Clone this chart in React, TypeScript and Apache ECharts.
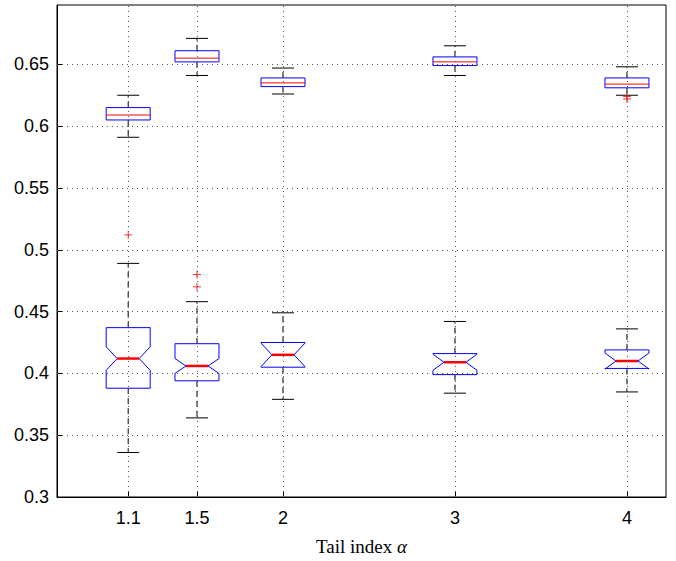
import React, { useEffect, useRef } from "react";
import * as echarts from "echarts";

const positions = [1.1, 1.5, 2, 3, 4];
// [min, q1, median, q3, max]
const upperBoxes = [
  [0.591, 0.605, 0.609, 0.615, 0.625],
  [0.641, 0.652, 0.655, 0.661, 0.671],
  [0.626, 0.632, 0.635, 0.639, 0.647],
  [0.641, 0.649, 0.652, 0.656, 0.665],
  [0.625, 0.631, 0.634, 0.639, 0.648],
];
const lowerBoxes = [
  [0.336, 0.388, 0.412, 0.437, 0.489],
  [0.364, 0.394, 0.406, 0.424, 0.458],
  [0.379, 0.405, 0.415, 0.425, 0.449],
  [0.384, 0.399, 0.409, 0.416, 0.442],
  [0.385, 0.404, 0.41, 0.419, 0.436],
];
const lowerNotch = [0.0095, 0.006, 0.0095, 0.0065, 0.0065];
const outliers = [
  [4, 0.622],
  [4, 0.624],
  [1.1, 0.512],
  [1.5, 0.47],
  [1.5, 0.48],
];
const yTicks = [0.3, 0.35, 0.4, 0.45, 0.5, 0.55, 0.6, 0.65];

const App = () => {
  const chartRef = useRef<HTMLDivElement>(null);

  useEffect(() => {
    const chart = echarts.init(chartRef.current!, null, { renderer: "svg" });
    const boxData = [
      ...upperBoxes.map((b, i) => [positions[i], ...b, 0]),
      ...lowerBoxes.map((b, i) => [positions[i], ...b, lowerNotch[i]]),
    ];
    const renderItem = (params: any, api: any) => {
      const x = api.value(0);
      const [mn, q1, md, q3, mx, notch] = [1, 2, 3, 4, 5, 6].map((k) => api.value(k));
      const px = (v: number) => api.coord([x, v]);
      const cx = px(md)[0];
      const half = 22;
      const cap = 11;
      const yMin = px(mn)[1], yQ1 = px(q1)[1], yMd = px(md)[1], yQ3 = px(q3)[1], yMax = px(mx)[1];
      const whisk = { stroke: "#000", lineWidth: 1, lineDash: [6, 4] };
      const children: any[] = [
        { type: "line", shape: { x1: cx, y1: yQ3, x2: cx, y2: yMax }, style: whisk },
        { type: "line", shape: { x1: cx, y1: yQ1, x2: cx, y2: yMin }, style: whisk },
        { type: "line", shape: { x1: cx - cap, y1: yMax, x2: cx + cap, y2: yMax }, style: { stroke: "#000", lineWidth: 1 } },
        { type: "line", shape: { x1: cx - cap, y1: yMin, x2: cx + cap, y2: yMin }, style: { stroke: "#000", lineWidth: 1 } },
      ];
      if (notch > 0) {
        const yNt = px(md + notch)[1], yNb = px(md - notch)[1];
        const inner = half * 0.5;
        children.push({
          type: "polygon",
          shape: {
            points: [
              [cx - half, yQ3], [cx + half, yQ3], [cx + half, yNt], [cx + inner, yMd], [cx + half, yNb],
              [cx + half, yQ1], [cx - half, yQ1], [cx - half, yNb], [cx - inner, yMd], [cx - half, yNt],
            ],
          },
          style: { fill: "#fff", stroke: "#0000ff", lineWidth: 1 },
        });
        children.push({ type: "line", shape: { x1: cx - inner, y1: yMd, x2: cx + inner, y2: yMd }, style: { stroke: "#ff0000", lineWidth: 2.5 } });
      } else {
        children.push({ type: "rect", shape: { x: cx - half, y: yQ3, width: half * 2, height: yQ1 - yQ3 }, style: { fill: "#fff", stroke: "#0000ff", lineWidth: 1 } });
        children.push({ type: "line", shape: { x1: cx - half, y1: yMd, x2: cx + half, y2: yMd }, style: { stroke: "#ff0000", lineWidth: 1 } });
      }
      return { type: "group", children };
    };
    const gridStyle = { color: "#555", type: [1, 4] as any, width: 1 };
    chart.setOption({
      animation: false,
      grid: { left: 57, right: 10, top: 5, bottom: 62, show: true, borderColor: "#000", borderWidth: 1 },
      xAxis: {
        type: "value",
        min: 0.686,
        max: 4.227,
        name: "{t|Tail index }{a|α}",
        nameLocation: "middle",
        nameGap: 40,
        nameTextStyle: {
          rich: {
            t: { fontFamily: "Liberation Serif", fontSize: 19, color: "#000" },
            a: { fontFamily: "Liberation Serif", fontStyle: "italic", fontSize: 19, color: "#000" },
          },
        },
        axisLine: { show: true, onZero: false, lineStyle: { color: "#000" } },
        axisTick: { show: true, inside: true, customValues: positions, length: 6, lineStyle: { color: "#000" } },
        axisLabel: { customValues: positions, formatter: (v: number) => String(v), fontFamily: "Liberation Sans", fontSize: 18, color: "#000", margin: 12 },
        splitLine: { show: false },
      },
      yAxis: {
        type: "value",
        min: 0.3,
        max: 0.698,
        interval: 0.05,
        axisLine: { show: true, lineStyle: { color: "#000" } },
        axisTick: { show: true, inside: true, customValues: yTicks, length: 6, lineStyle: { color: "#000" } },
        axisLabel: { customValues: yTicks, formatter: (v: number) => String(+v.toFixed(2)), fontFamily: "Liberation Sans", fontSize: 18, color: "#000", margin: 8 },
        splitLine: { show: false },
      },
      series: [
        {
          type: "line",
          data: [],
          silent: true,
          markLine: {
            silent: true,
            symbol: "none",
            label: { show: false },
            lineStyle: gridStyle,
            data: [
              ...positions.map((p) => ({ xAxis: p })),
              ...yTicks.slice(1).map((t) => ({ yAxis: t })),
            ],
          },
        },
        {
          type: "custom",
          renderItem,
          encode: { x: 0, y: [1, 5] },
          data: boxData,
          z: 3,
        },
        {
          type: "scatter",
          symbol: "path://M5,0L5,10M0,5L10,5",
          symbolSize: 8,
          itemStyle: { color: "none", borderColor: "#ff0000", borderWidth: 1 },
          data: outliers,
          z: 4,
        },
      ],
    });
    return () => chart.dispose();
  }, []);

  return <div ref={chartRef} style={{ position: "absolute", left: 0, top: 0, width: 676, height: 561 }} />;
};

export default App;
